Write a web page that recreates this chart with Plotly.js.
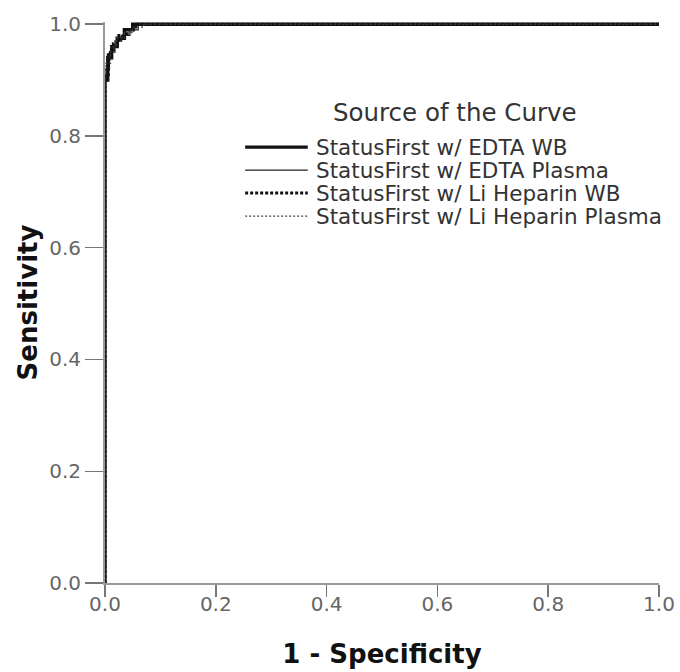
<!DOCTYPE html>
<html>
<head>
<meta charset="utf-8">
<script src="https://cdn.plot.ly/plotly-3.0.1.min.js"></script>
<style>html,body{margin:0;padding:0;background:#fff;}#chart{width:680px;height:672px;}</style>
</head>
<body>
<div id="chart"></div>
<script>
// Series names
const seriesNames = [
  "StatusFirst w/ EDTA WB",
  "StatusFirst w/ EDTA Plasma",
  "StatusFirst w/ Li Heparin WB",
  "StatusFirst w/ Li Heparin Plasma"
];
const legendTitle = "Source of the Curve";
// 1 - Specificity (x) and Sensitivity (y) for each ROC curve
const edtaWB_x = [0, 0, 0.005, 0.005, 0.012, 0.012, 0.022, 0.022, 0.035, 0.035, 0.05, 0.05, 1];
const edtaWB_y = [0, 0.90, 0.90, 0.94, 0.94, 0.96, 0.96, 0.975, 0.975, 0.99, 0.99, 1, 1];
const edtaPl_x = [0, 0, 0.008, 0.008, 0.018, 0.018, 0.03, 0.03, 0.045, 0.045, 0.06, 0.06, 1];
const edtaPl_y = [0, 0.92, 0.92, 0.95, 0.95, 0.97, 0.97, 0.98, 0.98, 0.99, 0.99, 1, 1];
const liWB_x = [0, 0, 0.006, 0.006, 0.015, 0.015, 0.025, 0.025, 0.04, 0.04, 0.055, 0.055, 1];
const liWB_y = [0, 0.91, 0.91, 0.95, 0.95, 0.965, 0.965, 0.98, 0.98, 0.99, 0.99, 1, 1];
const liPl_x = [0, 0, 0.01, 0.01, 0.02, 0.02, 0.035, 0.035, 0.05, 0.05, 0.07, 0.07, 1];
const liPl_y = [0, 0.93, 0.93, 0.96, 0.96, 0.975, 0.975, 0.985, 0.985, 0.995, 0.995, 1, 1];
const tickVals = [0, 0.2, 0.4, 0.6, 0.8, 1.0];
const tickText = ["0.0", "0.2", "0.4", "0.6", "0.8", "1.0"];

const FONT = "DejaVu Sans, Verdana, sans-serif";
const lineStyles = [
  {color: "#111", width: 3.4},
  {color: "#222", width: 1.3},
  {color: "#111", width: 3, dash: "3px,2px"},
  {color: "#444", width: 1.2, dash: "2px,2px"}
];
const xs = [edtaWB_x, edtaPl_x, liWB_x, liPl_x];
const ys = [edtaWB_y, edtaPl_y, liWB_y, liPl_y];
const traces = xs.map((x, i) => ({
  x: x, y: ys[i], name: seriesNames[i], mode: "lines", line: lineStyles[i], showlegend: false
}));

// Manual legend (SPSS style, tight spacing)
const legY = [0.777, 0.736, 0.695, 0.654];
const shapes = [];
const annotations = [{
  xref: "paper", yref: "paper", x: 0.632, y: 0.838, xanchor: "center", yanchor: "middle",
  text: legendTitle, showarrow: false, font: {family: FONT, size: 24.5, color: "#333"}
}];
seriesNames.forEach((n, i) => {
  shapes.push({type: "line", xref: "paper", yref: "paper", x0: 0.253, x1: 0.366, y0: legY[i], y1: legY[i],
    line: {color: lineStyles[i].color, width: lineStyles[i].width, dash: lineStyles[i].dash || "solid"}});
  annotations.push({xref: "paper", yref: "paper", x: 0.378, y: legY[i], xanchor: "left", yanchor: "middle",
    text: n, showarrow: false, font: {family: FONT, size: 21.5, color: "#333"}});
});

const layout = {
  width: 680, height: 672,
  margin: {l: 105, r: 21, t: 22, b: 89, pad: 0},
  paper_bgcolor: "#fff", plot_bgcolor: "#fff",
  font: {family: FONT, color: "#555", size: 20},
  showlegend: false,
  shapes: shapes,
  annotations: annotations,
  xaxis: {
    range: [0, 1], tickvals: tickVals, ticktext: tickText,
    showgrid: false, zeroline: false, showline: true, linecolor: "#999", linewidth: 2,
    ticks: "outside", ticklen: 12, tickwidth: 1.5, tickcolor: "#777",
    ticklabelstandoff: -10,
    tickfont: {family: FONT, size: 20, color: "#666"},
    title: {text: "1 - Specificity", font: {family: FONT, size: 26, color: "#111", weight: "bold"}, standoff: 30}
  },
  yaxis: {
    range: [0, 1.004], tickvals: tickVals, ticktext: tickText,
    showgrid: false, zeroline: false, showline: true, linecolor: "#999", linewidth: 2,
    ticks: "outside", ticklen: 18, tickwidth: 1.5, tickcolor: "#777",
    tickfont: {family: FONT, size: 20, color: "#666"},
    title: {text: "Sensitivity", font: {family: FONT, size: 26, color: "#111", weight: "bold"}, standoff: 4}
  }
};

Plotly.newPlot("chart", traces, layout, {displayModeBar: false, staticPlot: true});
</script>
</body>
</html>
